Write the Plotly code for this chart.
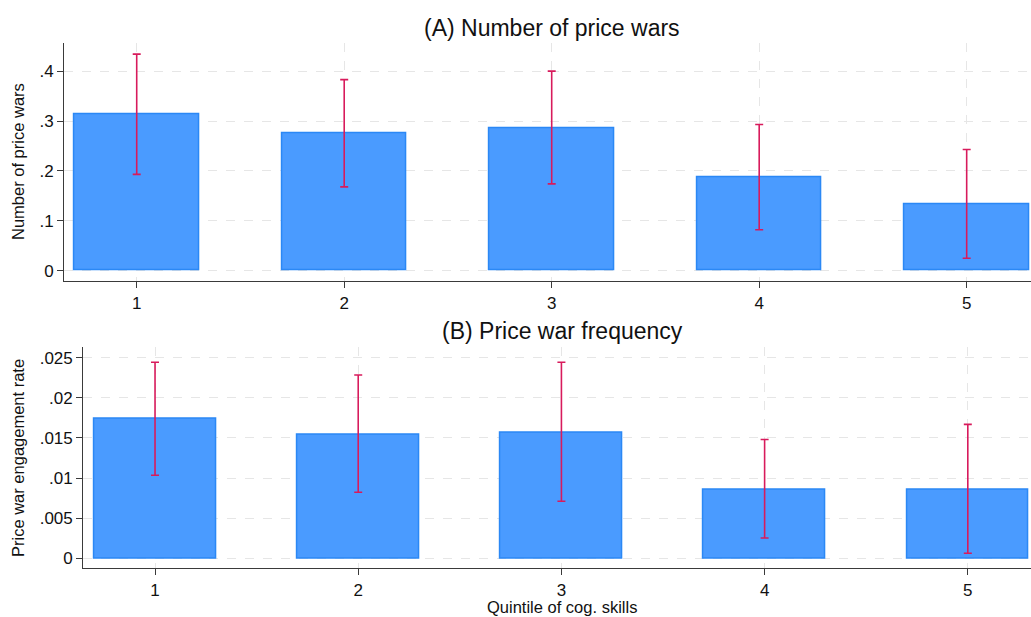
import plotly.graph_objects as go

# Quintiles of cognitive skills
quintiles = [1, 2, 3, 4, 5]
quintile_labels = ["1", "2", "3", "4", "5"]

# Panel A: number of price wars (mean and 95% CI)
wars_mean = [0.313, 0.2745, 0.285, 0.187, 0.133]
wars_lo = [0.193, 0.168, 0.174, 0.082, 0.025]
wars_hi = [0.434, 0.383, 0.400, 0.293, 0.243]

# Panel B: price war engagement rate (mean and 95% CI)
freq_mean = [0.01737, 0.01546, 0.01571, 0.0086, 0.0086]
freq_lo = [0.01035, 0.00823, 0.00711, 0.00253, 0.00062]
freq_hi = [0.02444, 0.02286, 0.02444, 0.0148, 0.0167]

ticks_a = [0, 0.1, 0.2, 0.3, 0.4]
ticklabels_a = ["0", ".1", ".2", ".3", ".4"]
ticks_b = [0, 0.005, 0.01, 0.015, 0.02, 0.025]
ticklabels_b = ["0", ".005", ".01", ".015", ".02", ".025"]

W, H = 1031, 617
FONT = "Liberation Sans, Arial, Helvetica, sans-serif"
BAR_FILL = "#4a9bff"
BAR_EDGE = "#2b88f5"
ERR_COLOR = "#d81b5c"
AXIS_COLOR = "#3a3a3a"
GRID_COLOR = "#e6e6e6"
TICK_SIZE = 17
LABEL_SIZE = 16.5
TITLE_SIZE = 23


def px_x(p):
    return p / W


def px_y(p):
    return 1 - p / H


def bar_trace(mean, lo, hi, xa, ya):
    return go.Bar(
        x=quintiles,
        y=mean,
        width=0.6,
        marker=dict(color=BAR_FILL, line=dict(color=BAR_EDGE, width=1.5)),
        error_y=dict(
            type="data",
            symmetric=False,
            array=[h - m for h, m in zip(hi, mean)],
            arrayminus=[m - l for m, l in zip(mean, lo)],
            color=ERR_COLOR,
            thickness=1.6,
            width=4,
        ),
        xaxis=xa,
        yaxis=ya,
        showlegend=False,
    )


fig = go.Figure()
fig.add_trace(bar_trace(wars_mean, wars_lo, wars_hi, "x", "y"))
fig.add_trace(bar_trace(freq_mean, freq_lo, freq_hi, "x2", "y2"))

common_x = dict(
    tickmode="array",
    tickvals=quintiles,
    ticktext=quintile_labels,
    ticks="outside",
    ticklen=6,
    tickcolor=AXIS_COLOR,
    showline=True,
    linecolor=AXIS_COLOR,
    linewidth=1.3,
    showgrid=True,
    gridcolor=GRID_COLOR,
    griddash="dash",
    gridwidth=1,
    zeroline=False,
    tickfont=dict(size=TICK_SIZE, color="#111111"),
    fixedrange=True,
)
common_y = dict(
    tickmode="array",
    ticks="outside",
    ticklen=6,
    tickcolor=AXIS_COLOR,
    showline=True,
    linecolor=AXIS_COLOR,
    linewidth=1.3,
    showgrid=True,
    gridcolor=GRID_COLOR,
    griddash="dash",
    gridwidth=1,
    zeroline=False,
    tickfont=dict(size=TICK_SIZE, color="#111111"),
    fixedrange=True,
)

fig.update_layout(
    width=W,
    height=H,
    margin=dict(l=0, r=0, t=0, b=0),
    paper_bgcolor="white",
    plot_bgcolor="white",
    font=dict(family=FONT, color="#111111"),
    bargap=0,
    xaxis=dict(
        common_x,
        domain=[px_x(64.3), 1],
        anchor="y",
        range=[0.651, 5.310],
    ),
    yaxis=dict(
        common_y,
        domain=[px_y(281.3), px_y(43.3)],
        anchor="x",
        range=[-0.0212, 0.4557],
        tickvals=ticks_a,
        ticktext=ticklabels_a,
    ),
    xaxis2=dict(
        common_x,
        domain=[px_x(83.3), 1],
        anchor="y2",
        range=[0.647, 5.311],
    ),
    yaxis2=dict(
        common_y,
        domain=[px_y(568.3), px_y(346.7)],
        anchor="x2",
        range=[-0.00125, 0.02638],
        tickvals=ticks_b,
        ticktext=ticklabels_b,
    ),
)

annotations = [
    dict(text="(A) Number of price wars", x=px_x(552), y=px_y(28),
         font=dict(size=TITLE_SIZE)),
    dict(text="(B) Price war frequency", x=px_x(562), y=px_y(331),
         font=dict(size=TITLE_SIZE)),
    dict(text="Quintile of cog. skills", x=px_x(562), y=px_y(607),
         font=dict(size=LABEL_SIZE)),
    dict(text="Number of price wars", x=px_x(18), y=px_y(162),
         font=dict(size=LABEL_SIZE), textangle=-90),
    dict(text="Price war engagement rate", x=px_x(18), y=px_y(458),
         font=dict(size=LABEL_SIZE), textangle=-90),
]
for a in annotations:
    fig.add_annotation(
        xref="paper", yref="paper", showarrow=False,
        xanchor="center", yanchor="middle", **a
    )

fig.write_html("out.html")
